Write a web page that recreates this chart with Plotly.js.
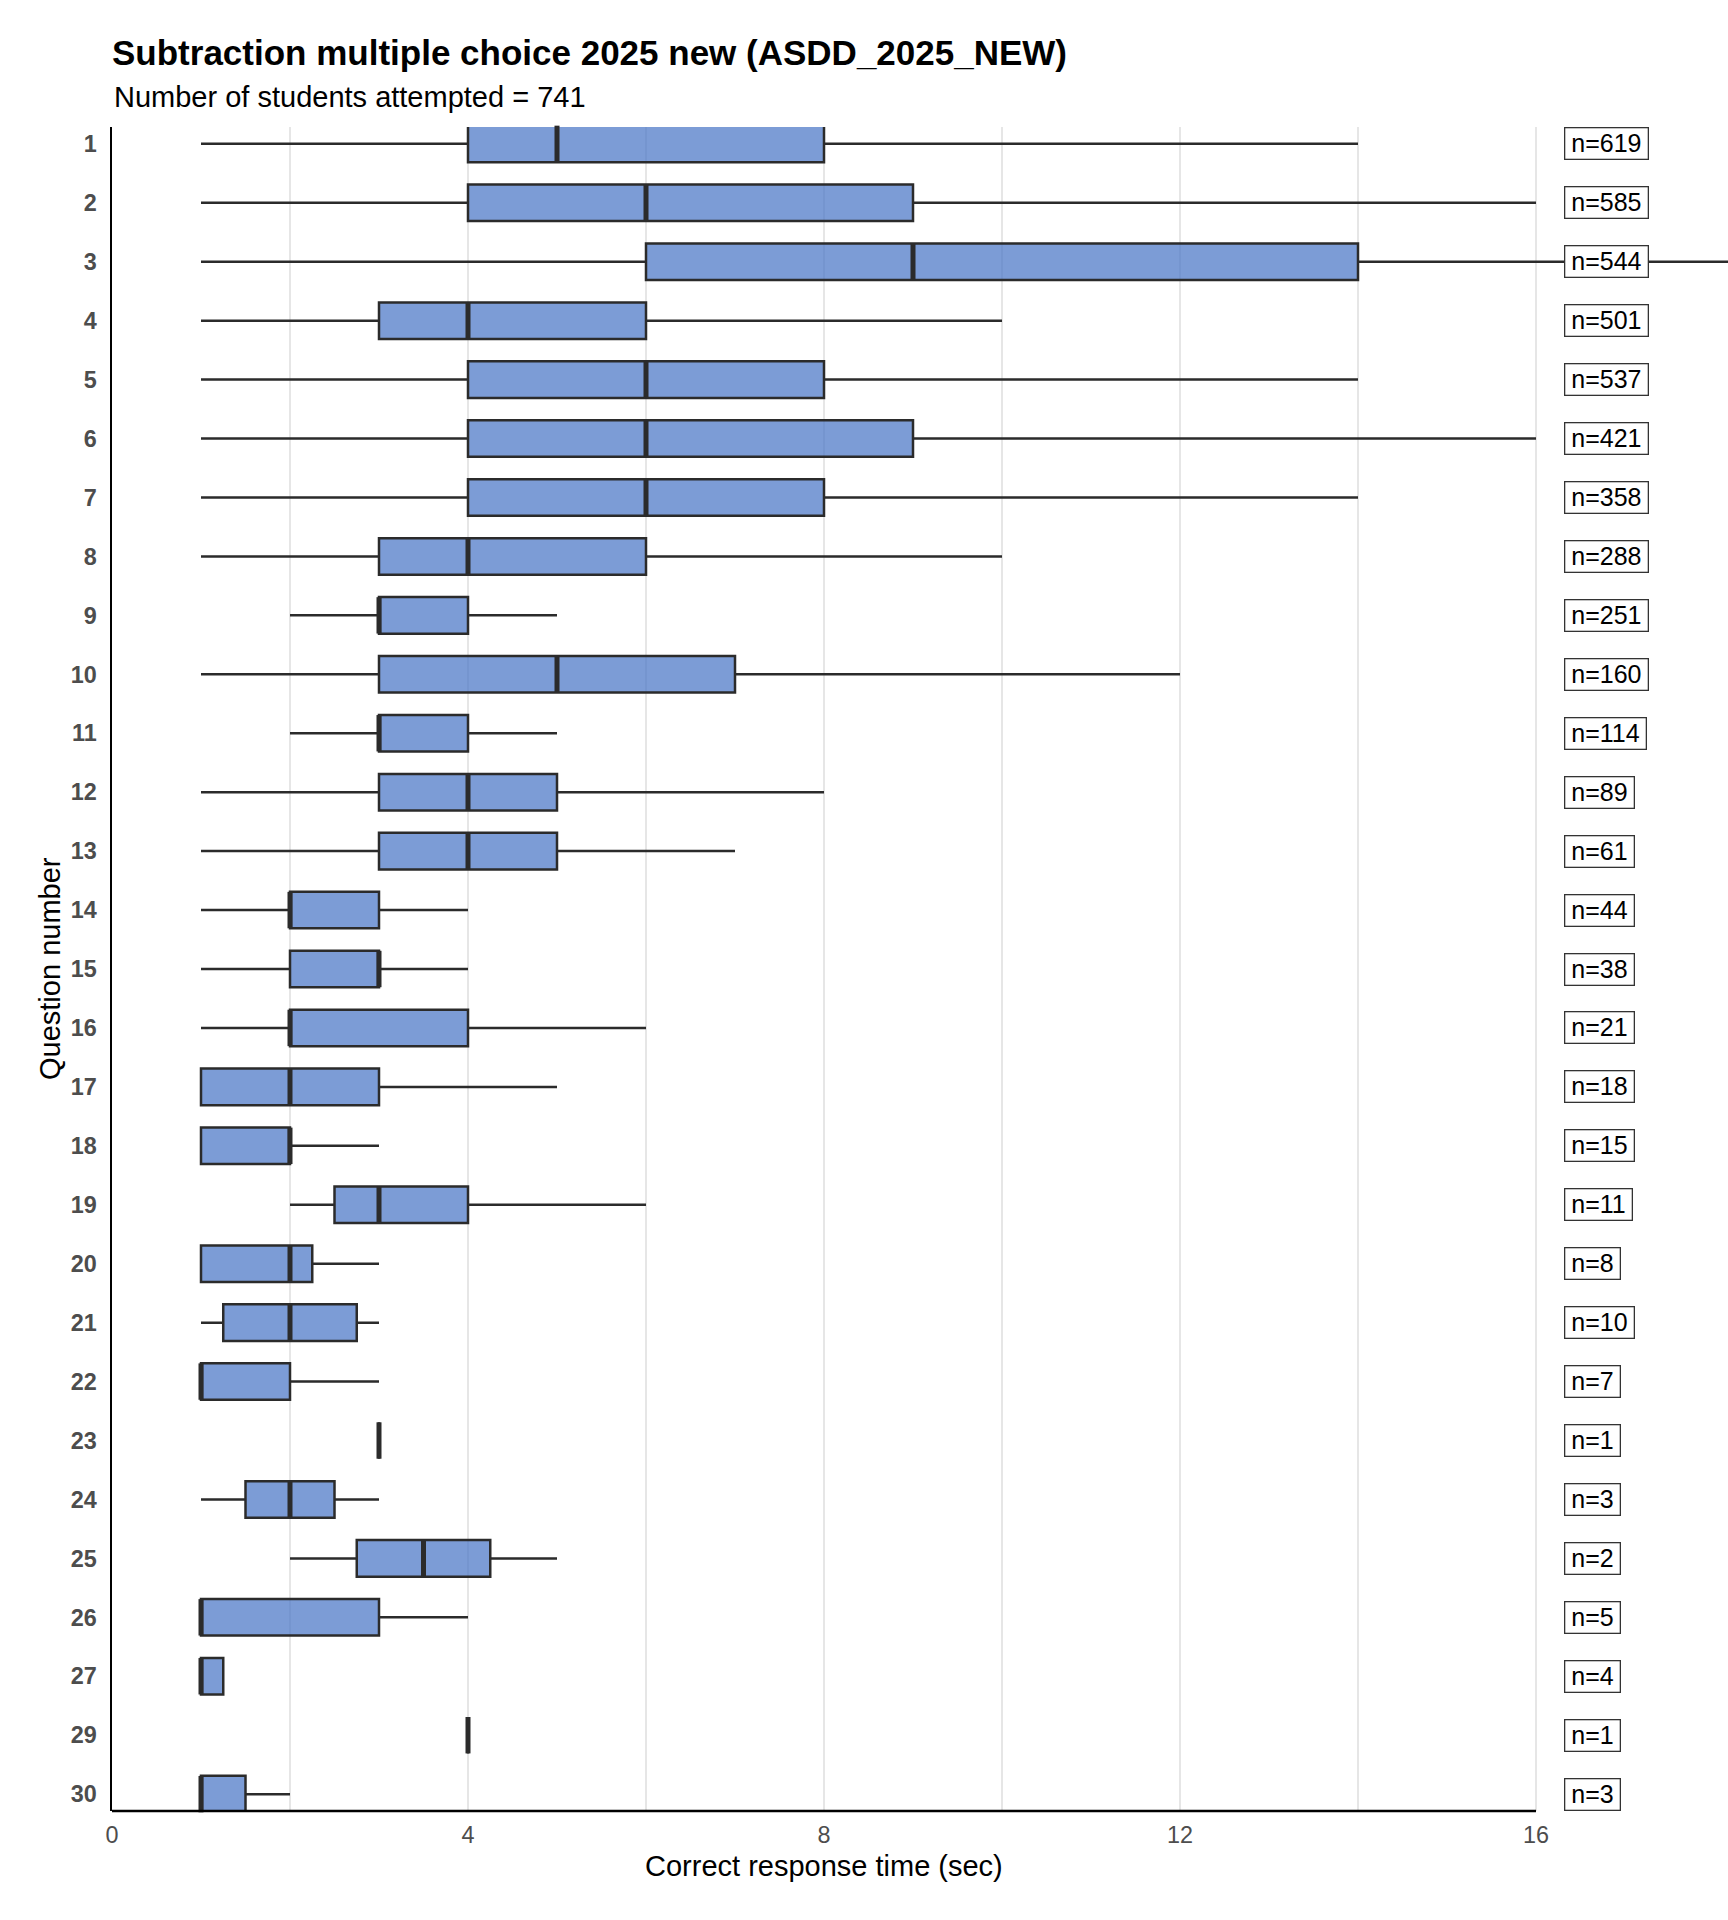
<!DOCTYPE html>
<html>
<head>
<meta charset="utf-8">
<script src="https://cdn.plot.ly/plotly-3.0.1.min.js"></script>
<style>html,body{margin:0;padding:0;background:#fff;}</style>
</head>
<body>
<div id="chart" style="width:1728px;height:1920px;"></div>
<script>
// ---- data ----
const questions = ["1","2","3","4","5","6","7","8","9","10","11","12","13","14","15","16","17","18","19","20","21","22","23","24","25","26","27","29","30"];
const lowerFence = [1,1,1,1,1,1,1,1,2,1,2,1,1,1,1,1,1,1,2,1,1,1,3,1,2,1,1,4,1];
const q1Vals     = [4,4,6,3,4,4,4,3,3,3,3,3,3,2,2,2,1,1,2.5,1,1.25,1,3,1.5,2.75,1,1,4,1];
const medianVals = [5,6,9,4,6,6,6,4,3,5,3,4,4,2,3,2,2,2,3,2,2,1,3,2,3.5,1,1,4,1];
const q3Vals     = [8,9,14,6,8,9,8,6,4,7,4,5,5,3,3,4,3,2,4,2.25,2.75,2,3,2.5,4.25,3,1.25,4,1.5];
const upperFence = [14,16,20,10,14,16,14,10,5,12,5,8,7,4,4,6,5,3,6,3,3,3,3,3,5,4,1.25,4,2];
const nCounts    = [619,585,544,501,537,421,358,288,251,160,114,89,61,44,38,21,18,15,11,8,10,7,1,3,2,5,4,1,3];
const xTickVals  = [0,4,8,12,16];
const xMinorVals = [2,6,10,14];

// ---- layout constants ----
const W = 1728, H = 1920;
const mL = 112, mR = 0, mT = 127, mB = 109;
const pxPerUnit = (1536 - mL) / 16;
const xMax = (W - mL - mR) / pxPerUnit;
const nCat = questions.length;
const pad = 0.286;
const plotH = H - mT - mB;
const FONT = "Liberation Sans, Arial, Helvetica, sans-serif";
const dark = "#2b2b2b";

const boxTrace = {
  type: "box",
  orientation: "h",
  y: questions,
  q1: q1Vals,
  median: medianVals,
  q3: q3Vals,
  lowerfence: lowerFence,
  upperfence: upperFence,
  boxpoints: false,
  width: 0.62,
  whiskerwidth: 0,
  fillcolor: "rgba(68,114,196,0.7)",
  line: {color: dark, width: 2.5},
  hoverinfo: "skip",
  showlegend: false
};

const medianTrace = {
  type: "scatter",
  mode: "markers",
  x: medianVals,
  y: questions,
  marker: {symbol: "line-ns", size: 26, color: dark, line: {color: dark, width: 5}},
  hoverinfo: "skip",
  showlegend: false,
  cliponaxis: false
};

const annotations = [];
questions.forEach((q, i) => {
  annotations.push({
    x: 16.315, y: i, xref: "x", yref: "y",
    xanchor: "left", yanchor: "middle",
    text: "\u2009n=" + nCounts[i] + "\u2009",
    showarrow: false,
    font: {family: FONT, size: 25, color: "#000"},
    bgcolor: "#ffffff",
    bordercolor: "#333333",
    borderwidth: 1.3,
    borderpad: 1
  });
});
// subtitle
annotations.push({
  xref: "paper", yref: "paper", x: 0, y: (H - mB - 97) / plotH,
  xanchor: "left", yanchor: "middle", showarrow: false,
  text: "Number of students attempted = 741",
  font: {family: FONT, size: 29, color: "#000"}
});
// x axis title
annotations.push({
  xref: "x", yref: "paper", x: 8, y: -(1866 - (H - mB)) / plotH,
  xanchor: "center", yanchor: "middle", showarrow: false,
  text: "Correct response time (sec)",
  font: {family: FONT, size: 29, color: "#000"}
});
// y axis title
annotations.push({
  xref: "paper", yref: "paper", x: (50 - mL) / (W - mL - mR), y: 0.5,
  xanchor: "center", yanchor: "middle", showarrow: false, textangle: -90,
  text: "Question number",
  font: {family: FONT, size: 29, color: "#000"}
});

const layout = {
  width: W, height: H,
  paper_bgcolor: "#ffffff", plot_bgcolor: "#ffffff",
  margin: {l: mL, r: mR, t: mT, b: mB, pad: 0},
  font: {family: FONT},
  title: {
    text: "<b>Subtraction multiple choice 2025 new (ASDD_2025_NEW)</b>",
    font: {family: FONT, size: 35, color: "#000"},
    xref: "paper", x: 0, xanchor: "left",
    yref: "container", y: 1 - 53 / H, yanchor: "middle"
  },
  xaxis: {
    range: [0, xMax],
    tickmode: "array", tickvals: xTickVals, ticktext: xTickVals.map(String),
    showgrid: true, gridcolor: "#e6e6e6", gridwidth: 2,
    minor: {tickmode: "array", tickvals: xMinorVals, showgrid: true, gridcolor: "#e6e6e6", gridwidth: 2, ticks: ""},
    zeroline: false, showline: false, ticks: "",
    tickfont: {family: FONT, size: 23.4, color: "#4d4d4d"},
    ticklabelstandoff: 8,
    fixedrange: true
  },
  yaxis: {
    type: "category",
    categoryorder: "array", categoryarray: questions,
    range: [nCat - 1 + pad, -pad],
    showgrid: false, zeroline: false,
    showline: true, linecolor: "#000", linewidth: 2.5,
    ticks: "",
    tickfont: {family: FONT, size: 23.4, color: "#4d4d4d", weight: 700},
    ticklabelstandoff: 8,
    fixedrange: true
  },
  shapes: [{
    type: "line", xref: "x", yref: "paper",
    x0: 0, x1: 16, y0: 0, y1: 0,
    line: {color: "#000", width: 2.5}
  }],
  annotations: annotations,
  showlegend: false
};

Plotly.newPlot("chart", [boxTrace, medianTrace], layout, {displayModeBar: false, staticPlot: true});
</script>
</body>
</html>
